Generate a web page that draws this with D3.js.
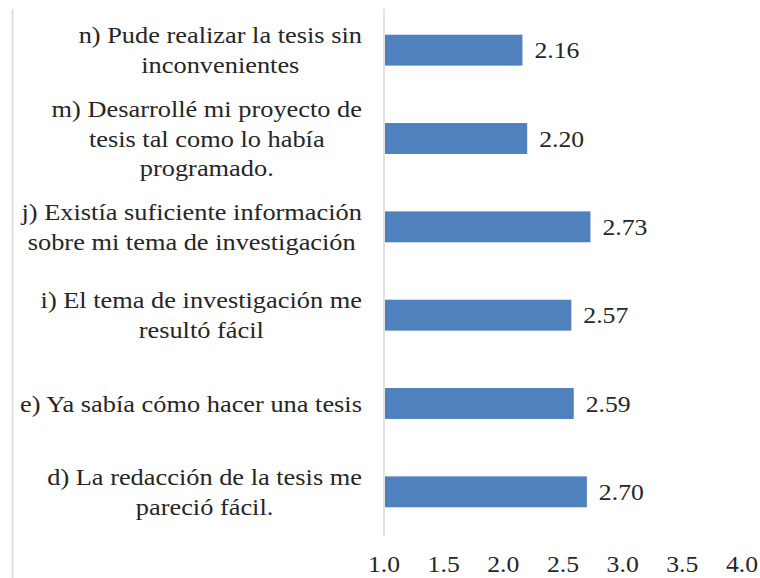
<!DOCTYPE html>
<html>
<head>
<meta charset="utf-8">
<script src="https://cdn.jsdelivr.net/npm/d3@7"></script>
</head>
<body style="margin:0">
<script>
// Items, top to bottom, with their label lines
const categories = [
    ["n) Pude realizar la tesis sin", "inconvenientes"],
    ["m) Desarrollé mi proyecto de", "tesis tal como lo había", "programado."],
    ["j) Existía suficiente información", "sobre mi tema de investigación"],
    ["i) El tema de investigación me", "resultó fácil"],
    ["e) Ya sabía cómo hacer una tesis"],
    ["d) La redacción de la tesis me", "pareció fácil."]
];
const values = [2.16, 2.20, 2.73, 2.57, 2.59, 2.70];
const tickValues = [1.0, 1.5, 2.0, 2.5, 3.0, 3.5, 4.0];

const FONT = "'Liberation Serif', 'Times New Roman', serif";
const FONT_SIZE = 23;
// widths seen in the picture: widest label line and a value label
const WIDEST_LABEL_PX = 342;
const VALUE_LABEL_PX = 45;

function renderGraph() {
    const width = 760;
    const height = 578;

    const svg = d3.select('body')
        .append('svg')
        .attr('width', width)
        .attr('height', height)
        .style('display', 'block');

    // measure text in whatever font the page gets, so widths match the picture
    function measure(s) {
        const t = svg.append('text')
            .style('font-family', FONT)
            .attr('font-size', FONT_SIZE)
            .text(s);
        const w = t.node().getComputedTextLength();
        t.remove();
        return w;
    }
    const lineWidths = categories.map(c => c.map(measure));
    const kx = WIDEST_LABEL_PX / d3.max(lineWidths.flat());
    const kv = VALUE_LABEL_PX / measure("2.70");

    const x = d3.scaleLinear().domain([1, 4]).range([384, 742]);
    const y = d3.scaleBand()
        .domain(d3.range(values.length))
        .range([6, 536])
        .paddingInner(0.65)
        .paddingOuter(0.325);

    // chart border on the left
    svg.append('line')
        .attr('x1', 12.5).attr('x2', 12.5)
        .attr('y1', 9).attr('y2', height)
        .attr('stroke', '#d9d9d9')
        .attr('stroke-width', 1.5);

    // vertical axis line
    svg.append('line')
        .attr('x1', x(1)).attr('x2', x(1))
        .attr('y1', 9).attr('y2', 536)
        .attr('stroke', '#d9d9d9')
        .attr('stroke-width', 1.5);

    svg.selectAll('rect.bar')
        .data(values)
        .enter()
        .append('rect')
        .attr('class', 'bar')
        .attr('x', x(1) + 1)
        .attr('y', (d, i) => y(i))
        .attr('width', d => x(d) - x(1) - 1)
        .attr('height', y.bandwidth())
        .attr('fill', '#4f81bd');

    // value labels
    svg.selectAll('text.val')
        .data(values)
        .enter()
        .append('text')
        .attr('class', 'val')
        .attr('transform', (d, i) => `translate(${x(d) + 12},${y(i) + y.bandwidth() / 2 + 8}) scale(${kv},1)`)
        .attr('font-size', FONT_SIZE)
        .style('font-family', FONT)
        .attr('fill', '#262626')
        .text(d => d.toFixed(2));

    // category labels: lines centred in a block that ends at the axis gap
    const lineH = 29.5;
    const right = 362;
    const blocks = svg.selectAll('g.cat')
        .data(categories)
        .enter()
        .append('g')
        .attr('class', 'cat')
        .attr('transform', (c, i) => {
            const bw = d3.max(lineWidths[i]) * kx;
            return `translate(${right - bw / 2},${y(i) + y.bandwidth() / 2}) scale(${kx},1)`;
        });

    blocks.selectAll('text')
        .data(c => c.map((s, k) => ({ s, k, n: c.length })))
        .enter()
        .append('text')
        .attr('x', 0)
        .attr('y', d => (d.k - (d.n - 1) / 2) * lineH + 8)
        .attr('text-anchor', 'middle')
        .attr('font-size', FONT_SIZE)
        .style('font-family', FONT)
        .attr('fill', '#262626')
        .text(d => d.s);

    // x tick labels
    svg.selectAll('text.tick')
        .data(tickValues)
        .enter()
        .append('text')
        .attr('class', 'tick')
        .attr('transform', d => `translate(${x(d)},572) scale(${kv},1)`)
        .attr('text-anchor', 'middle')
        .attr('font-size', FONT_SIZE)
        .style('font-family', FONT)
        .attr('fill', '#262626')
        .text(d => d.toFixed(1));
}

renderGraph();
</script>
</body>
</html>
